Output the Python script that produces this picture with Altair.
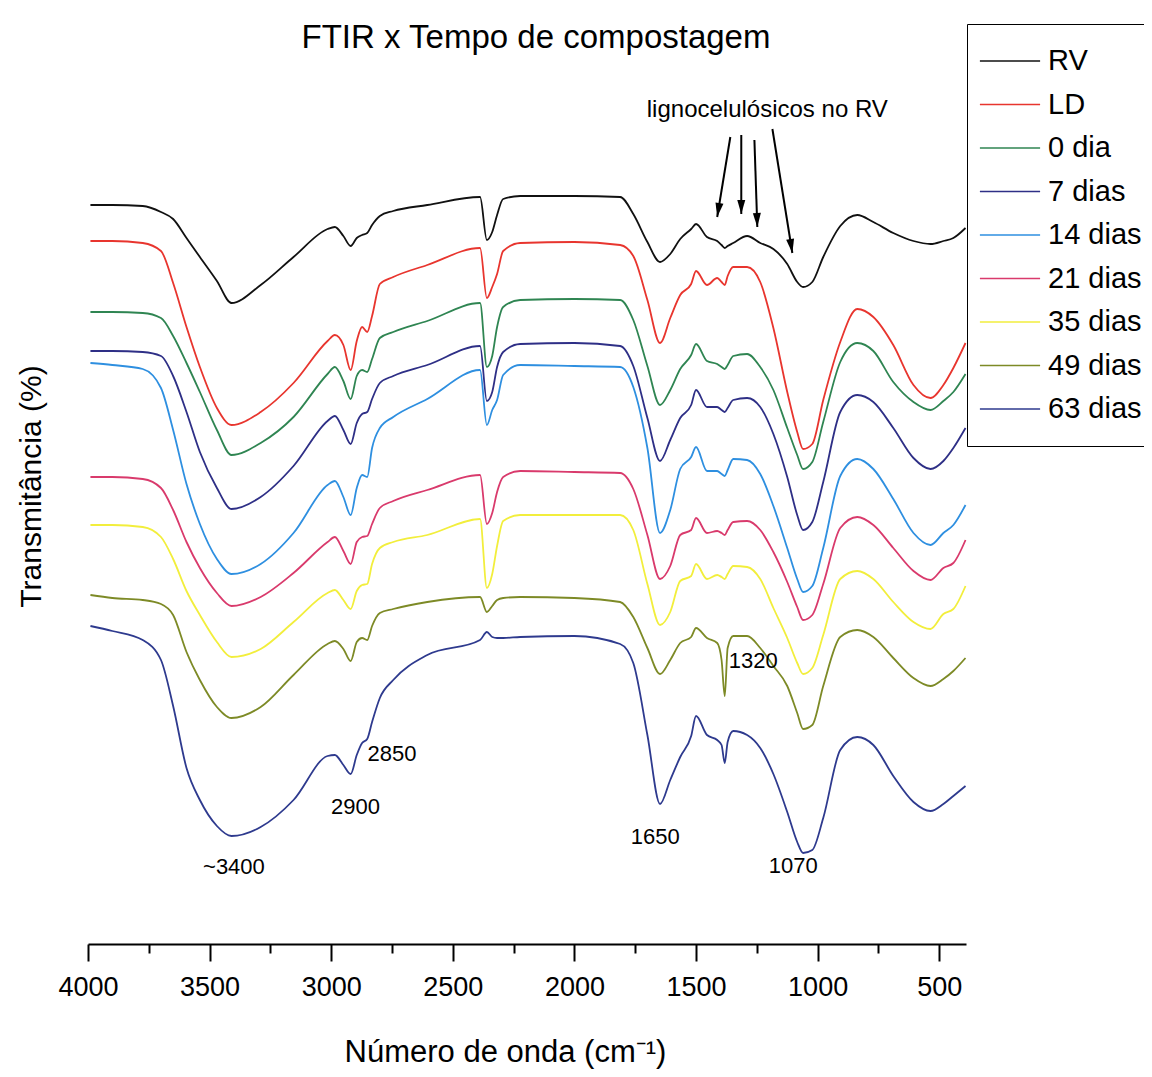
import math
import altair as alt
import pandas as pd

FONT = "Liberation Sans"

# Wavenumber grid (cm-1) shared by every spectrum
wavenumber = [3990, 3900, 3775, 3700, 3650, 3595, 3540, 3470, 3410, 3290, 3155, 3015, 2985, 2950, 2920,
              2895, 2873, 2852, 2832, 2800, 2745, 2605, 2388, 2360, 2338, 2318, 2293, 2223, 2000, 1812,
              1758, 1700, 1648, 1606, 1565, 1520, 1500, 1455, 1413, 1395, 1382, 1370, 1347, 1290, 1236,
              1182, 1125, 1084, 1060, 1022, 977, 907, 837, 771, 689, 606, 536, 483, 442, 392]

# Stacked transmittance (arbitrary units, offset curves)
rv = [739,739,738,732,725,706,687,663,641,659, 687,715,717,708,698,706,709,711,719,728, 733,739,747,704,712,729,745,748,748,747, 730,702,682,690,705,715,720,707,703,699, 696,698,701,708,701,695,680,662,657,662, 687,718,729,722,711,703,700,703,706,716]
ld = [703,703,701,693,661,617,577,536,519,532, 561,603,609,599,574,603,617,612,628,660, 667,679,696,646,657,670,693,701,702,699, 688,644,601,626,649,660,673,659,666,662, 659,668,677,677,662,616,552,512,495,500, 544,602,635,627,599,559,546,559,576,601]
d0 = [632,632,631,626,608,581,552,514,489,501, 527,570,577,563,545,568,574,572,585,606, 612,623,641,577,588,617,637,644,645,644, 624,578,539,554,575,589,600,583,580,577, 575,579,588,590,577,554,516,489,475,482, 522,582,601,593,562,542,534,543,552,570]
d7 = [593,593,592,588,568,532,492,456,435,447, 478,523,528,514,500,521,530,532,545,561, 568,579,598,543,552,577,592,600,601,598, 578,526,483,504,526,539,554,537,537,534, 532,536,544,546,537,510,467,429,414,422, 462,532,549,542,516,486,475,483,496,516]
d14 = [581,579,575,556,514,460,420,385,370,380, 411,459,463,447,429,456,469,467,496,516, 527,545,574,519,534,544,569,579,578,577, 557,496,411,434,475,487,497,473,473,470, 468,474,485,484,470,438,396,365,352,358, 396,468,485,475,445,411,399,411,419,439]
d21 = [467,467,465,456,434,402,376,351,338,347, 371,402,407,393,380,402,407,408,420,436, 443,454,469,420,431,452,467,473,472,471, 455,409,365,378,409,414,426,411,413,411, 409,414,422,423,414,392,362,337,324,329, 360,416,427,419,396,373,364,376,381,404]
d35 = [419,419,417,407,385,353,329,302,287,295, 322,351,354,344,335,353,359,360,380,396, 402,409,425,356,370,398,423,429,429,429, 414,360,319,332,363,368,380,365,369,367, 365,370,378,377,365,336,306,281,270,276, 309,365,373,365,342,322,315,330,335,358]
d49 = [349,346,344,340,329,292,264,237,226,237, 269,300,303,295,283,302,306,304,318,331, 335,342,347,332,338,344,346,347,346,342, 327,296,270,284,301,307,316,306,301,284, 248,296,308,308,296,278,258,231,215,219, 258,307,314,307,286,266,258,265,273,286]
d63 = [318,313,304,284,238,176,144,118,108,117, 144,188,189,179,170,189,201,205,222,246, 264,289,304,312,307,306,306,307,308,300, 281,209,140,164,187,208,228,209,204,199, 181,202,213,209,196,170,132,102,91,94, 126,194,207,199,168,142,133,140,148,158]

series_names = ["RV", "LD", "0 dia", "7 dias", "14 dias", "21 dias", "35 dias", "49 dias", "63 dias"]
series_values = [rv, ld, d0, d7, d14, d21, d35, d49, d63]
series_colors = ["#111111", "#e8352e", "#2f8552", "#2e2f86", "#2e8fe0", "#d93a6c", "#f2ee3c", "#7d8a26", "#2e3a8e"]

# Peak annotations
peak_labels = ["~3400", "2900", "2850", "1650", "1320", "1070"]
peak_wn = [3400, 2900, 2750, 1668, 1265, 1100]
peak_T = [77, 137, 190, 107, 283, 78]

note_text = ["lignocelulósicos no RV"]
note_wn = [1207]
note_T = [834]

arrow_tail_wn = [1359, 1314, 1260, 1186]
arrow_tail_T = [807, 809, 804, 815]
arrow_tip_wn = [1413, 1314, 1248, 1104]
arrow_tip_T = [727, 730, 717, 691]

# ---------------------------------------------------------------
rows = []
for name, vals in zip(series_names, series_values):
    for w, v in zip(wavenumber, vals):
        rows.append({"serie": name, "wn": w, "T": v})
df = pd.DataFrame(rows)

X_DOMAIN = [4000, 390]
Y_DOMAIN = [0, 922]
W, H = 878, 922

kx = W / (X_DOMAIN[0] - X_DOMAIN[1])
ky = H / (Y_DOMAIN[1] - Y_DOMAIN[0])
angles = []
for tw, tt, hw, ht in zip(arrow_tail_wn, arrow_tail_T, arrow_tip_wn, arrow_tip_T):
    dx = -(hw - tw) * kx
    dy = -(ht - tt) * ky
    angles.append(math.degrees(math.atan2(-dx, dy)) % 360)

arrows = pd.DataFrame({"wn": arrow_tail_wn, "T": arrow_tail_T,
                       "wn2": arrow_tip_wn, "T2": arrow_tip_T, "ang": angles})
heads = pd.DataFrame({"wn": arrow_tip_wn, "T": arrow_tip_T, "ang": angles})
peaks = pd.DataFrame({"wn": peak_wn, "T": peak_T, "label": peak_labels})
note = pd.DataFrame({"wn": note_wn, "T": note_T, "label": note_text})

x_scale = alt.Scale(domain=X_DOMAIN, nice=False, zero=False)
y_scale = alt.Scale(domain=Y_DOMAIN, nice=False, zero=False)

x_axis = alt.Axis(
    title="Número de onda (cm⁻¹)",
    values=list(range(4000, 499, -250)),
    format="d",
    labelExpr="datum.value % 500 === 0 ? datum.label : ''",
    tickSize={"condition": {"test": "datum.value % 500 === 0", "value": 17}, "value": 9},
    tickWidth=2,
    domainWidth=2,
    labelFontSize=27,
    labelPadding=13,
    labelFlush=False,
    labelOverlap=False,
    titleFontSize=31,
    titleX=417,
    titleY=117,
    titleBaseline="alphabetic",
    titleAlign="center",
)
y_axis = alt.Axis(
    title="Transmitância (%)",
    domain=False, ticks=False, labels=False, grid=False,
    titleFontSize=30,
    titleX=-48,
    titleY=464,
    titleAngle=270,
    titleBaseline="alphabetic",
    titleAlign="center",
)

X = alt.X("wn:Q", scale=x_scale, axis=x_axis)
Y = alt.Y("T:Q", scale=y_scale, axis=y_axis)

lines = alt.Chart(df).mark_line(strokeWidth=1.8, interpolate="monotone").encode(
    x=X, y=Y,
    color=alt.Color(
        "serie:N",
        scale=alt.Scale(domain=series_names, range=series_colors),
        legend=alt.Legend(
            title=None,
            orient="none", legendX=879, legendY=2,
            symbolType="M-2.15,0H2.15", symbolSize=784, symbolStrokeWidth=1.5,
            labelFont=FONT, labelFontSize=29, labelColor="black", labelLimit=400,
            labelExpr="datum.label + '          '",
            padding=22, rowPadding=13.5, symbolOffset=6, labelOffset=23,
            strokeColor="black", fillColor="white",
        ),
    ),
    order=alt.Order("wn:Q", sort="descending"),
    detail="serie:N",
)

peak_text = alt.Chart(peaks).mark_text(font=FONT, fontSize=22, color="black",
                                       align="center", baseline="middle").encode(x=X, y=Y, text="label:N")
note_mark = alt.Chart(note).mark_text(font=FONT, fontSize=24, color="black",
                                      align="center", baseline="middle").encode(x=X, y=Y, text="label:N")
shafts = alt.Chart(arrows).mark_rule(color="black", strokeWidth=2).encode(
    x=X, y=Y, x2="wn2:Q", y2="T2:Q")
head_marks = alt.Chart(heads).mark_point(shape="M0,0L-0.4,-1.4L0.4,-1.4Z", size=400, filled=True,
                                         color="black", opacity=1, strokeWidth=0).encode(
    x=X, y=Y, angle=alt.Angle("ang:Q", scale=None))

chart = alt.layer(lines, peak_text, note_mark, shafts, head_marks).properties(
    width=W, height=H,
    title=alt.TitleParams("FTIR x Tempo de compostagem", font=FONT, fontSize=33, fontWeight="normal",
                          color="black", anchor="middle", frame="group", offset=-59,
                          baseline="alphabetic", dx=9),
    autosize=alt.AutoSizeParams(type="none"),
    padding={"left": 80, "top": 14, "right": 178, "bottom": 125},
).configure_view(strokeWidth=0).configure_axis(
    labelFont=FONT, titleFont=FONT, labelColor="black", titleColor="black",
    titleFontWeight="normal", domainColor="black", tickColor="black", grid=False,
)

chart.save("out.html", embed_options={"renderer": "svg", "actions": False})
